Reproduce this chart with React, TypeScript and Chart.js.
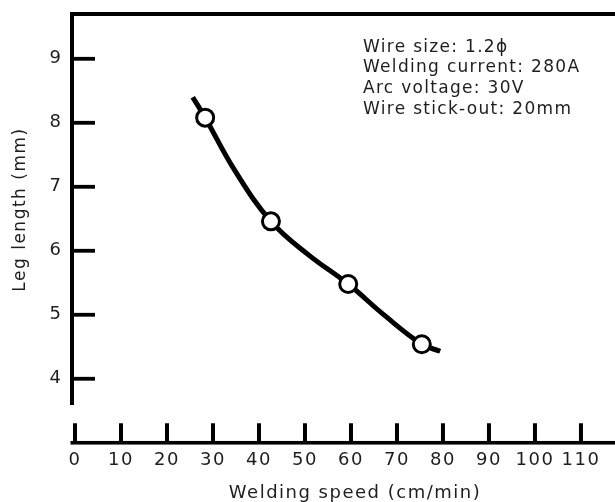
import React, { useEffect, useRef } from "react";
import { Chart, registerables } from "chart.js";

Chart.register(...registerables);

// ---- data ----
const SPEED = [28.3, 42.6, 59.4, 75.4];
const LEG_LENGTH = [8.08, 6.46, 5.48, 4.54];
// drawn smooth curve (extends a little beyond the points)
const CURVE_SPEED = [25.6, 28.3, 34.7, 42.6, 50.7, 59.4, 67.3, 75.4, 79.4];
const CURVE_LEG = [8.4, 8.08, 7.26, 6.46, 5.94, 5.48, 4.99, 4.54, 4.43];

const X_TICKS = [0, 10, 20, 30, 40, 50, 60, 70, 80, 90, 100, 110];
const Y_TICKS = [4, 5, 6, 7, 8, 9];
const X_MIN = -0.65;
const X_MAX = 122.4;
const Y_MIN = 3.59;
const Y_MAX = 9.7;
const X_AXIS_AT = 3; // y value where the (detached) x axis line sits

const X_TITLE = "Welding speed (cm/min)";
const Y_TITLE = "Leg length (mm)";
const NOTE_LINES = [
  "Wire size: 1.2ϕ",
  "Welding current: 280A",
  "Arc voltage: 30V",
  "Wire stick-out: 20mm",
];

const FONT = '"DejaVu Sans", sans-serif';
const TEXT_COLOR = "#1e1e1e";

const spacingPlugin = {
  id: "letterSpacing",
  beforeUpdate(chart: any) {
    chart.ctx.letterSpacing = "1.5px";
  },
  beforeLayout(chart: any) {
    chart.ctx.letterSpacing = "1.5px";
  },
  beforeDraw(chart: any) {
    chart.ctx.letterSpacing = "1.5px";
  },
};

const framePlugin = {
  id: "frame",
  beforeDatasetsDraw(chart: any) {
    const { ctx, chartArea } = chart;
    const x = chart.scales.x;
    const y = chart.scales.y;
    ctx.save();
    ctx.fillStyle = "#000";
    // top border line
    ctx.fillRect(chartArea.left - 2, chartArea.top - 2, chartArea.right - chartArea.left + 2, 4);
    // y axis line
    ctx.fillRect(chartArea.left - 2, chartArea.top - 2, 4, chartArea.bottom - chartArea.top + 2);
    // y tick marks (inward)
    for (const v of Y_TICKS) {
      const py = y.getPixelForValue(v);
      ctx.fillRect(chartArea.left, py - 1.9, 23, 3.8);
    }
    // x axis line
    const ay = y.getPixelForValue(X_AXIS_AT);
    ctx.fillRect(chartArea.left - 1.5, ay - 1.8, chartArea.right - chartArea.left + 1.5, 3.6);
    // x tick marks (upward)
    for (const v of X_TICKS) {
      const px = x.getPixelForValue(v);
      ctx.fillRect(px - 2, ay - 19.5, 4, 19.5);
    }
    ctx.restore();
  },
};

const notePlugin = {
  id: "note",
  afterDraw(chart: any) {
    const { ctx, chartArea } = chart;
    ctx.save();
    ctx.letterSpacing = "1.3px";
    ctx.font = `17px ${FONT}`;
    ctx.fillStyle = TEXT_COLOR;
    ctx.textAlign = "left";
    ctx.textBaseline = "alphabetic";
    NOTE_LINES.forEach((line, i) => {
      ctx.fillText(line, chartArea.left + 291, chartArea.top + 37.7 + i * 20.7);
    });
    ctx.restore();
  },
};

export default function App() {
  const canvasRef = useRef<HTMLCanvasElement | null>(null);

  useEffect(() => {
    const canvas = canvasRef.current;
    if (!canvas) return;
    const chart = new Chart(canvas, {
      type: "scatter",
      data: {
        datasets: [
          {
            label: "Measured",
            data: SPEED.map((s, i) => ({ x: s, y: LEG_LENGTH[i] })),
            showLine: false,
            pointRadius: 8.5,
            pointHoverRadius: 8.5,
            pointBorderWidth: 3,
            pointBackgroundColor: "#ffffff",
            pointBorderColor: "#000000",
            order: 0,
          },
          {
            label: "Fit",
            data: CURVE_SPEED.map((s, i) => ({ x: s, y: CURVE_LEG[i] })),
            showLine: true,
            pointRadius: 0,
            borderWidth: 5,
            borderColor: "#000000",
            tension: 0.4,
            order: 1,
          },
        ],
      },
      options: {
        responsive: false,
        devicePixelRatio: 1,
        animation: false,
        layout: { autoPadding: false, padding: { top: 14, left: 0, right: 0, bottom: 0 } },
        plugins: {
          legend: { display: false },
          tooltip: { enabled: false },
        },
        scales: {
          x: {
            type: "linear",
            position: "bottom",
            min: X_MIN,
            max: X_MAX,
            grid: { display: false, drawTicks: false },
            border: { display: false },
            afterBuildTicks: (s: any) => {
              s.ticks = X_TICKS.map((v) => ({ value: v }));
            },
            afterFit: (s: any) => {
              s.height = 97;
              s.paddingLeft = 0;
              s.paddingRight = 0;
            },
            ticks: {
              padding: 45,
              maxRotation: 0,
              autoSkip: false,
              color: TEXT_COLOR,
              font: { family: FONT, size: 18 },
            },
            title: {
              display: true,
              text: X_TITLE,
              color: TEXT_COLOR,
              font: { family: FONT, size: 18, lineHeight: 1 },
              padding: { top: 0, bottom: 0 },
            },
          },
          y: {
            type: "linear",
            min: Y_MIN,
            max: Y_MAX,
            grid: { display: false, drawTicks: false },
            border: { display: false },
            afterBuildTicks: (s: any) => {
              s.ticks = Y_TICKS.map((v) => ({ value: v }));
            },
            afterFit: (s: any) => {
              s.width = 72;
              s.paddingTop = 0;
              s.paddingBottom = 0;
            },
            ticks: {
              padding: 9.5,
              color: TEXT_COLOR,
              font: { family: FONT, size: 18 },
            },
            title: {
              display: true,
              text: Y_TITLE,
              color: TEXT_COLOR,
              font: { family: FONT, size: 17, lineHeight: 1 },
              padding: { top: 12, bottom: 0 },
            },
          },
        },
      },
      plugins: [spacingPlugin, framePlugin, notePlugin],
    } as any);
    return () => chart.destroy();
  }, []);

  // The original figure's axis runs past the right edge of the picture,
  // so the canvas is a little wider than the visible 615px frame.
  return (
    <div
      style={{
        position: "fixed",
        left: 0,
        top: 0,
        width: 615,
        height: 502,
        overflow: "hidden",
        background: "#fff",
      }}
    >
      <canvas ref={canvasRef} width={638} height={502} style={{ display: "block" }} />
    </div>
  );
}
